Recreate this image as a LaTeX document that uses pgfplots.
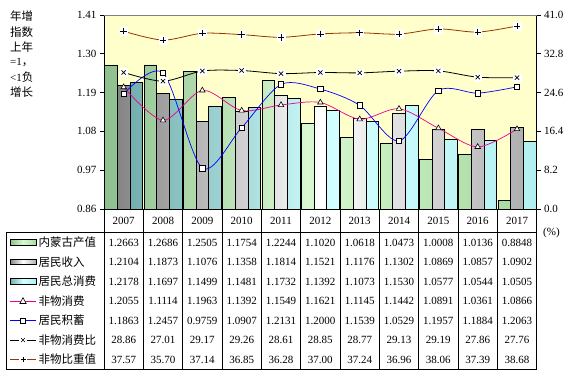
\documentclass[border=0pt]{standalone}
\usepackage{pgfplots}
\pgfplotsset{compat=1.18}
\usepackage{pgfplotstable}
\usepackage{fontspec}
\setmainfont{Liberation Serif}
\newfontfamily\cjk{Noto Sans CJK SC}
\definecolor{bgyellow}{HTML}{FFFFCC}
\definecolor{gA}{HTML}{8EC08E}
\definecolor{gB}{HTML}{D8F8D0}
\definecolor{gC}{HTML}{AADAA4}
\definecolor{hA}{HTML}{858585}
\definecolor{hB}{HTML}{FFFFFF}
\definecolor{hC}{HTML}{B0B0B0}
\definecolor{cA}{HTML}{74AEAE}
\definecolor{cB}{HTML}{D2FFFF}
\definecolor{cC}{HTML}{B2F0F0}
\definecolor{brownline}{HTML}{993300}

\pgfplotstableread{
x gdp inc cons nonmat sav ratio share
0 1.2663 1.2104 1.2178 1.2055 1.1863 28.86 37.57
1 1.2686 1.1873 1.1697 1.1114 1.2457 27.01 35.70
2 1.2505 1.1076 1.1499 1.1963 0.9759 29.17 37.14
3 1.1754 1.1358 1.1481 1.1392 1.0907 29.26 36.85
4 1.2244 1.1814 1.1732 1.1549 1.2131 28.61 36.28
5 1.1020 1.1521 1.1392 1.1621 1.2000 28.85 37.00
6 1.0618 1.1176 1.1073 1.1145 1.1539 28.77 37.24
7 1.0473 1.1302 1.1530 1.1442 1.0529 29.13 36.96
8 1.0008 1.0869 1.0577 1.0891 1.1957 29.19 38.06
9 1.0136 1.0857 1.0544 1.0361 1.1884 27.86 37.39
10 0.8848 1.0902 1.0505 1.0866 1.2063 27.76 38.68
}\datatab

\newcommand{\tf}{\fontsize{11}{13}\selectfont}
\newcommand{\cf}{\cjk\fontsize{11.5}{13}\selectfont}

\begin{document}
\begin{tikzpicture}[x=1pt,y=1pt]
\useasboundingbox (0,0) rectangle (577,375);

\begin{axis}[
  at={(104pt,166pt)}, anchor=south west, scale only axis,
  width=432.7pt, height=194pt,
  xmin=-0.5, xmax=10.5, ymin=0.86, ymax=1.41,
  axis y line*=left, axis x line*=bottom,
  xtick=\empty,
  ytick={0.86,0.97,1.08,1.19,1.30,1.41},
  /pgf/number format/assume math mode=true,
  yticklabel style={/pgf/number format/fixed, /pgf/number format/fixed zerofill, /pgf/number format/precision=2, font=\tf},
  tick align=outside, major tick length=4pt,
  axis line style={black, line width=0.8pt},
  tick style={black, line width=0.8pt},
  axis background/.style={fill=bgyellow},
]
\addplot[ybar, bar width=0.32, bar shift=-0.32, draw=black, line width=0.7pt, left color=gA, right color=gC, middle color=gB] table[x=x,y=gdp]{\datatab};
\addplot[ybar, bar width=0.32, bar shift=0, draw=black, line width=0.7pt, left color=hA, right color=hC, middle color=hB] table[x=x,y=inc]{\datatab};
\addplot[ybar, bar width=0.32, bar shift=0.32, draw=black, line width=0.7pt, left color=cA, right color=cC, middle color=cB] table[x=x,y=cons]{\datatab};
\addplot[magenta, smooth, line width=0.7pt, mark=triangle*, mark size=3.2pt, mark options={fill=white, draw=black, line width=0.6pt}] table[x=x,y=nonmat]{\datatab};
\addplot[blue, smooth, line width=0.7pt, mark=square*, mark size=2.7pt, mark options={fill=white, draw=black, line width=0.6pt}] table[x=x,y=sav]{\datatab};
\end{axis}

\begin{axis}[
  at={(104pt,166pt)}, anchor=south west, scale only axis,
  width=432.7pt, height=194pt,
  xmin=-0.5, xmax=10.5, ymin=0, ymax=41,
  axis y line*=right, axis x line=none,
  ytick={0,8.2,16.4,24.6,32.8,41},
  /pgf/number format/assume math mode=true,
  yticklabel style={/pgf/number format/fixed, /pgf/number format/fixed zerofill, /pgf/number format/precision=1, font=\tf},
  tick align=outside, major tick length=4pt,
  axis line style={black, line width=0.8pt},
  tick style={black, line width=0.8pt},
]
\addplot[black, smooth, line width=0.8pt] table[x=x,y=ratio]{\datatab};
\addplot[only marks, white, mark=square*, mark size=3.8pt] table[x=x,y=ratio]{\datatab};
\addplot[only marks, mark=x, mark size=3pt, black, line width=0.7pt] table[x=x,y=ratio]{\datatab};
\addplot[brownline, smooth, line width=0.8pt] table[x=x,y=share]{\datatab};
\addplot[only marks, white, mark=square*, mark size=3.8pt] table[x=x,y=share]{\datatab};
\addplot[only marks, mark=+, mark size=3.2pt, black, line width=0.7pt] table[x=x,y=share]{\datatab};
\end{axis}

% top border of the plot area
\draw[gray, line width=0.8pt] (104,360) -- (536.7,360);

% category row and table grid
\foreach \k in {0,...,11} {
  \draw[line width=0.8pt] ({104+39.336*\k},166) -- ({104+39.336*\k},5.5);
}
\draw[line width=0.8pt] (6.7,143) rectangle (536.7,5.5);

% year labels
\foreach \i in {0,...,10} {
  \node[font=\tf] at ({104+39.336*(\i+0.5)},154.5) {\the\numexpr2007+\i\relax};
}

% table values
\foreach \c/\r in {gdp/0, inc/1, cons/2, nonmat/3, sav/4, ratio/5, share/6} {
  \foreach \i in {0,...,10} {
    \pgfplotstablegetelem{\i}{\c}\of\datatab
    \node[font=\tf, inner sep=0pt] at ({104+39.336*(\i+0.5)},{132.5-19.5*\r}) {\pgfplotsretval};
  }
}

% legend column
\foreach \r/\a/\b/\cc in {0/gA/gB/gC, 1/hA/hB/hC, 2/cA/cB/cC} {
  \shade[left color=\a, right color=\cc, middle color=\b] (10,{132.5-19.5*\r-2.8}) rectangle (36,{132.5-19.5*\r+2.8});
  \draw[line width=0.8pt] (10,{132.5-19.5*\r-2.8}) rectangle (36,{132.5-19.5*\r+2.8});
}
\draw[magenta, line width=0.7pt] (10,74) -- (36,74);
\draw[blue, line width=0.7pt] (10,54.5) -- (36,54.5);
\draw[black, line width=0.7pt] (10,35) -- (19,35) (27,35) -- (36,35);
\draw[brownline, line width=0.7pt] (10,15.5) -- (19,15.5) (27,15.5) -- (36,15.5);
\draw[black, fill=white, line width=0.6pt] (19.8,71.5) -- (26.2,71.5) -- (23,77.3) -- cycle;
\draw[black, fill=white, line width=0.6pt] (20.5,52) rectangle (25.5,57);
\draw[black, line width=0.7pt] (21,33) -- (25,37) (21,37) -- (25,33);
\draw[black, line width=0.7pt] (20.5,15.5) -- (25.5,15.5) (23,13) -- (23,18);

\foreach \r/\t in {0/内蒙古产值, 1/居民收入, 2/居民总消费, 3/非物消费, 4/居民积蓄, 5/非物消费比, 6/非物比重值} {
  \node[anchor=west, font=\cf, inner sep=0pt] at (38.5,{132.5-19.5*\r}) {\t};
}

% top-left note
\node[anchor=west, font=\cf, inner sep=0pt] at (10,359) {年增};
\node[anchor=west, font=\cf, inner sep=0pt] at (10,343) {指数};
\node[anchor=west, font=\cf, inner sep=0pt] at (10,328) {上年};
\node[anchor=west, inner sep=0pt] at (10,313) {\tf =1{\cf ，}};
\node[anchor=west, inner sep=0pt] at (10,298) {\tf <1{\cf 负}};
\node[anchor=west, font=\cf, inner sep=0pt] at (10,283) {增长};

% unit
\node[anchor=west, font=\tf, inner sep=0pt] at (543,142) {(\%)};
\end{tikzpicture}
\end{document}
